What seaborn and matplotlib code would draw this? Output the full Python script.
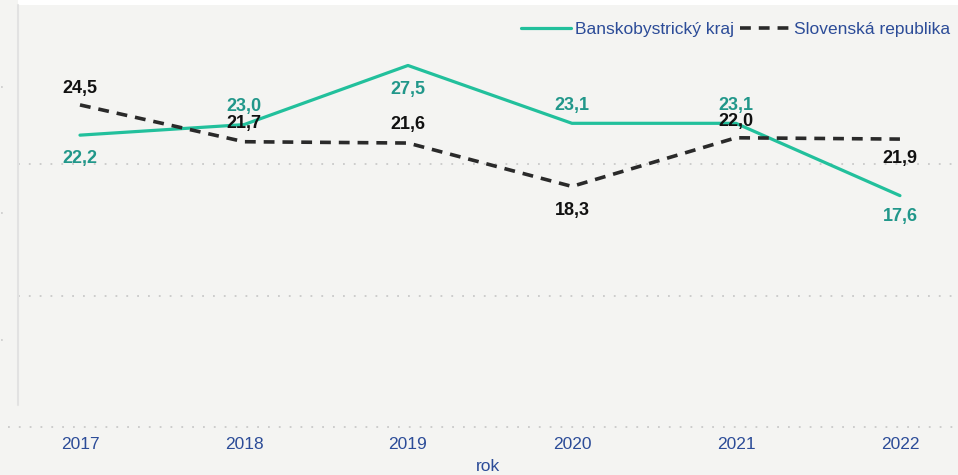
import matplotlib
matplotlib.use("Agg")
import matplotlib.pyplot as plt
import seaborn as sns
import pandas as pd
from matplotlib.lines import Line2D

years = [2017, 2018, 2019, 2020, 2021, 2022]
bb_values = [22.2, 23.0, 27.5, 23.1, 23.1, 17.6]
sr_values = [24.5, 21.7, 21.6, 18.3, 22.0, 21.9]
series_names = ["Banskobystrický kraj", "Slovenská republika"]
x_label = "rok"

# label offsets (points) for data labels: negative = below
bb_offsets = [-17, 13, -17, 13, 13, -15]
sr_offsets = [12, 13, 13, -17, 12, -14]

BG = "#f4f4f2"
GREEN = "#22c09c"
GREEN_TXT = "#21978a"
BLACK = "#222222"
BLUE = "#2c4c98"

sns.set_theme(style="white")
plt.rcParams["font.family"] = ["Liberation Sans", "DejaVu Sans"]

df = pd.DataFrame({
    "rok": years * 2,
    "value": bb_values + sr_values,
    "series": [series_names[0]] * len(years) + [series_names[1]] * len(years),
})

fig = plt.figure(figsize=(9.58, 4.75), dpi=100)
fig.patch.set_facecolor(BG)
W, H = 958, 475
ax = fig.add_axes([18 / W, (H - 427) / H, 1 - 18 / W, (427 - 5) / H])
ax.set_facecolor(BG)

# top white strip (cropped title area)
fig.add_artist(plt.Rectangle((18 / W, (H - 5) / H), 1, 5 / H, transform=fig.transFigure,
                             facecolor="white", edgecolor="none", zorder=0))

sns.lineplot(data=df, x="rok", y="value", hue="series", style="series",
             palette={series_names[0]: GREEN, series_names[1]: BLACK},
             dashes={series_names[0]: "", series_names[1]: (3.0, 2.2)},
             ax=ax, legend=False, zorder=3)
lines = ax.get_lines()
lines[0].set_linewidth(2.3)
lines[1].set_linewidth(2.6)
lines[1].set_color("#2a2a2a")

ax.set_xlim(2016.622, 2022.354)
ax.set_ylim(0, 32.1)

for v in [10, 20]:
    ax.axhline(v, color="#c9c9c9", lw=1.3, linestyle=(0, (1, 5)), zorder=1)

for x, v, o in zip(years, bb_values, bb_offsets):
    ax.annotate(f"{v:.1f}".replace(".", ","), (x, v), xytext=(0, o), textcoords="offset points",
                ha="center", va="center", fontsize=13, fontweight="bold", color=GREEN_TXT, zorder=5)
for x, v, o in zip(years, sr_values, sr_offsets):
    ax.annotate(f"{v:.1f}".replace(".", ","), (x, v), xytext=(0, o), textcoords="offset points",
                ha="center", va="center", fontsize=13, fontweight="bold", color="#111111", zorder=5)

for s in ax.spines.values():
    s.set_visible(False)
ax.set_yticks([])
ax.set_xticks(years)
ax.set_xticklabels([str(y) for y in years], fontsize=12.5, color=BLUE)
ax.tick_params(axis="x", length=0, pad=7)
ax.set_xlabel(x_label, fontsize=12.5, color=BLUE, labelpad=5)
ax.set_ylabel("")

# bottom dotted baseline extending to the left
fig.add_artist(Line2D([8 / W, 1], [(H - 427) / H] * 2, transform=fig.transFigure,
                      color="#c9c9c9", lw=1.3, linestyle=(0, (1, 5))))
# left vertical line
fig.add_artist(Line2D([18 / W] * 2, [(H - 405) / H, (H - 5) / H], transform=fig.transFigure,
                      color="#e2e2e2", lw=1.5))
# tiny marks on left edge
for yy in [87, 213, 340]:
    fig.add_artist(Line2D([1 / W, 9 / W], [(H - yy) / H] * 2, transform=fig.transFigure,
                          color="#cfcfcf", lw=1.3, linestyle=(0, (1, 5))))

handles = [Line2D([], [], color=GREEN, lw=2.3),
           Line2D([], [], color="#2a2a2a", lw=2.6, dashes=(3.0, 2.2))]
leg = ax.legend(handles, series_names, loc="upper right", bbox_to_anchor=(1.003, 0.985),
                ncol=2, frameon=False, fontsize=12.5, handlelength=2.9, handletextpad=0.2,
                columnspacing=0.4, borderaxespad=0.2)
for t in leg.get_texts():
    t.set_color(BLUE)

fig.savefig("out.png", dpi=100, facecolor=BG)
